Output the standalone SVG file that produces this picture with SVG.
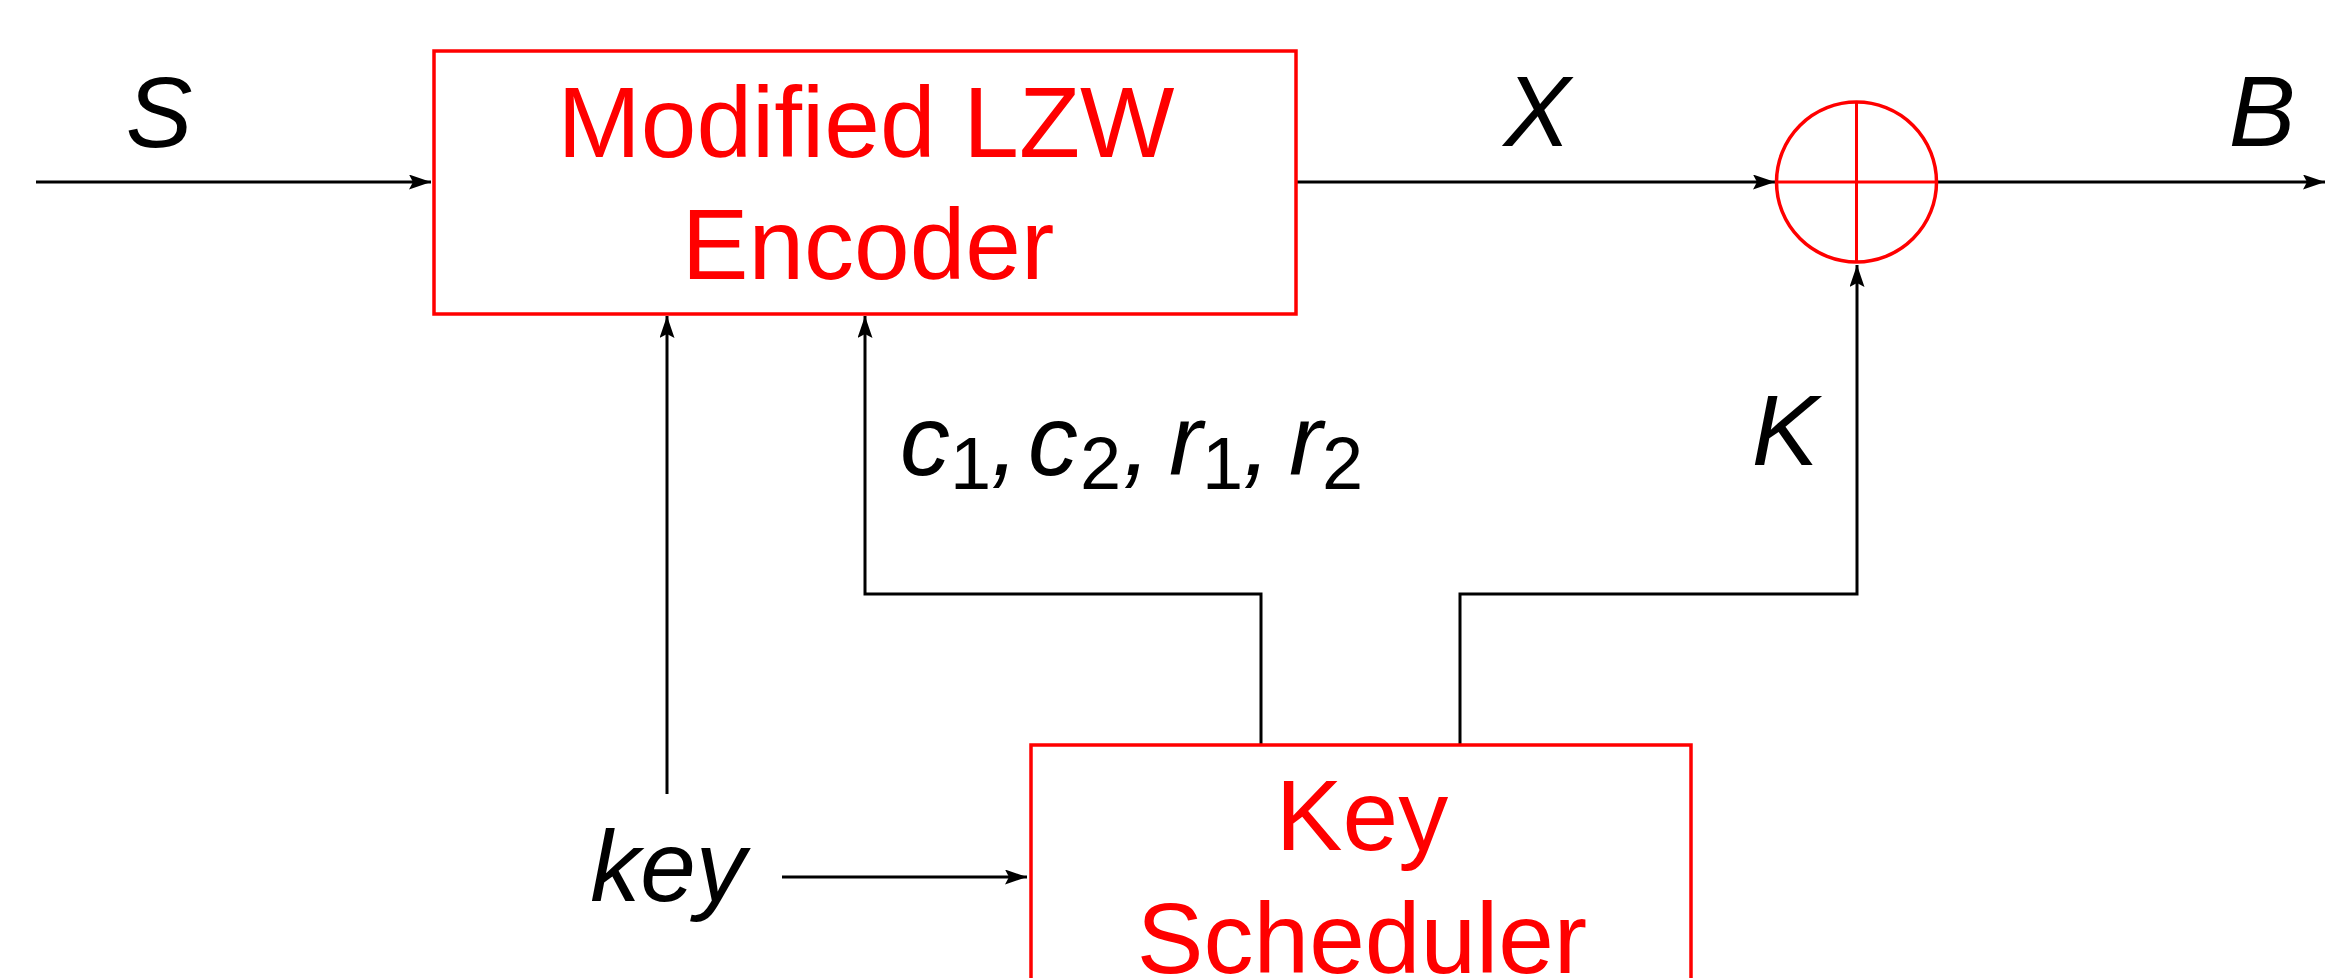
<svg xmlns="http://www.w3.org/2000/svg" width="2325" height="978" viewBox="0 0 2325 978">
<style>
.box{fill:#fff;stroke:#ff0000;stroke-width:3.5}
.red{fill:#ff0000;font-family:"Liberation Sans",Arial,sans-serif;font-size:100px;text-anchor:middle}
.lbl{fill:#000;font-family:"Liberation Sans",Arial,sans-serif;font-size:100px;font-style:italic}
.sub{font-size:74px;font-style:normal}
.wire{fill:none;stroke:#000;stroke-width:3}
.arr{marker-end:url(#ah)}
.cross{stroke:#ff0000;stroke-width:3}
</style>
<defs>
<marker id="ah" markerUnits="userSpaceOnUse" markerWidth="22" markerHeight="15" viewBox="0 0 22 15" refX="22" refY="7.5" orient="auto">
<path d="M0,0 L22,7.5 L0,15 L4,7.5 Z" fill="#000"/>
</marker>
</defs>
<rect width="2325" height="978" fill="#fff"/>
<g id="connectors">
<line class="wire arr" x1="36" y1="182" x2="431" y2="182"/>
<line class="wire arr" x1="1297" y1="182" x2="1775" y2="182"/>
<line class="wire arr" x1="1938" y1="182" x2="2325" y2="182"/>
<polyline class="wire arr" points="1261,744 1261,594 865,594 865,316"/>
<polyline class="wire arr" points="1460,744 1460,594 1857,594 1857,265"/>
<line class="wire arr" x1="667" y1="794" x2="667" y2="316"/>
<line class="wire arr" x1="782" y1="877" x2="1027" y2="877"/>
</g>
<g id="encoder">
<rect class="box" x="434" y="51" width="862" height="263"/>
<text class="red" x="866" y="157">Modified LZW</text>
<text class="red" x="868" y="279">Encoder</text>
</g>
<g id="xor">
<circle cx="1856.5" cy="182" r="80" fill="none" stroke="#ff0000" stroke-width="3.5"/>
<line class="cross" x1="1776.5" y1="182" x2="1936.5" y2="182"/>
<line class="cross" x1="1856.5" y1="102" x2="1856.5" y2="262"/>
</g>
<g id="keyscheduler">
<rect class="box" x="1031" y="745" width="660" height="300"/>
<text class="red" x="1362" y="850">Key</text>
<text class="red" x="1362" y="973">Scheduler</text>
</g>
<g id="labels">
<text class="lbl" x="159" y="147" text-anchor="middle">S</text>
<text class="lbl" x="1537" y="146" text-anchor="middle">X</text>
<text class="lbl" x="2262" y="146" text-anchor="middle">B</text>
<text class="lbl" x="1785" y="465" text-anchor="middle">K</text>
<text class="lbl" x="668" y="901" text-anchor="middle">key</text>
<text class="lbl" y="475"><tspan x="900">c</tspan><tspan class="sub" x="950" y="489">1</tspan><tspan x="991" y="475">,</tspan><tspan x="1028">c</tspan><tspan class="sub" x="1080" y="489">2</tspan><tspan x="1123" y="475">,</tspan><tspan x="1169">r</tspan><tspan class="sub" x="1202" y="489">1</tspan><tspan x="1243" y="475">,</tspan><tspan x="1289">r</tspan><tspan class="sub" x="1322" y="489">2</tspan></text>
</g>
</svg>
